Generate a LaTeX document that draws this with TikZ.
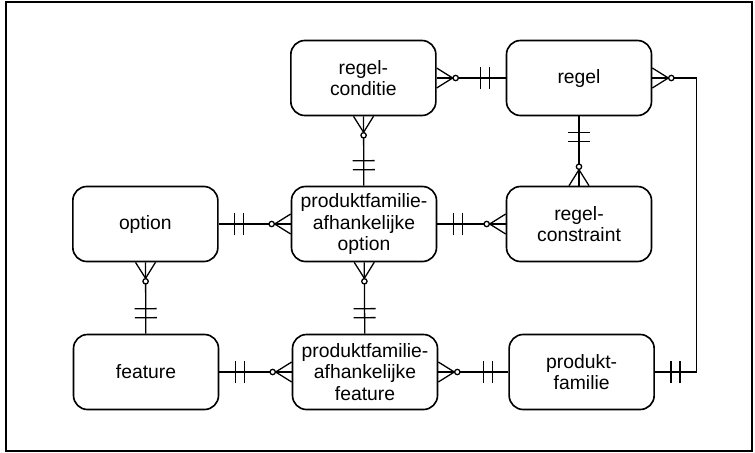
\documentclass[tikz,border=0pt]{standalone}
\usepackage{fontspec}
\setmainfont{Liberation Sans}
\usetikzlibrary{decorations.markings}

\tikzset{
  entity/.style={draw, line width=1.4pt, rounded corners=0.42cm, minimum width=4.35cm,
    minimum height=2.25cm, align=center, inner sep=0pt,
    font=\fontsize{16.5}{18.5}\selectfont},
  link/.style={line width=1.1pt, postaction={decorate, decoration={markings,
    mark=at position 0 with {\draw[line width=1.1pt] (0,0.3) -- (0.48,0) -- (0,-0.3);
                             \draw[line width=1.1pt, fill=white] (0.57,0) circle (0.08);},
    mark=at position 1 with {\draw[line width=1.1pt] (-0.48,0.33) -- (-0.48,-0.33);
                             \draw[line width=1.1pt] (-0.75,0.33) -- (-0.75,-0.33);}}}}
}

\begin{document}
\begin{tikzpicture}

\useasboundingbox (0,0) rectangle (22.65,-13.59);
\draw[line width=1.4pt] (0.18,-0.06) rectangle (22.56,-13.53);

\node[entity] (conditie)   at (10.9,-2.34)  {regel-\\conditie};
\node[entity] (regel)      at (17.37,-2.34) {regel};
\node[entity] (option)     at (4.36,-6.72)  {option};
\node[entity] (pfoption)   at (10.92,-6.72) {produktfamilie-\\afhankelijke\\option};
\node[entity] (constraint) at (17.37,-6.72) {regel-\\constraint};
\node[entity] (feature)    at (4.38,-11.16) {feature};
\node[entity] (pffeature)  at (10.95,-11.16) {produktfamilie-\\afhankelijke\\feature};
\node[entity] (familie)    at (17.45,-11.16) {produkt-\\familie};

\coordinate (bend) at (20.9,-2.34);

% many side first, one side last
\draw[link] (conditie) -- (regel);
\draw[link] (conditie) -- (pfoption);
\draw[link] (constraint) -- (regel);
\draw[link] (regel) -- (bend) |- (familie);
\draw[link] (pfoption) -- (option);
\draw[link] (constraint) -- (pfoption);
\draw[link] (option) -- (feature);
\draw[link] (pfoption) -- (pffeature);
\draw[link] (pffeature) -- (feature);
\draw[link] (pffeature) -- (familie);

\end{tikzpicture}
\end{document}
